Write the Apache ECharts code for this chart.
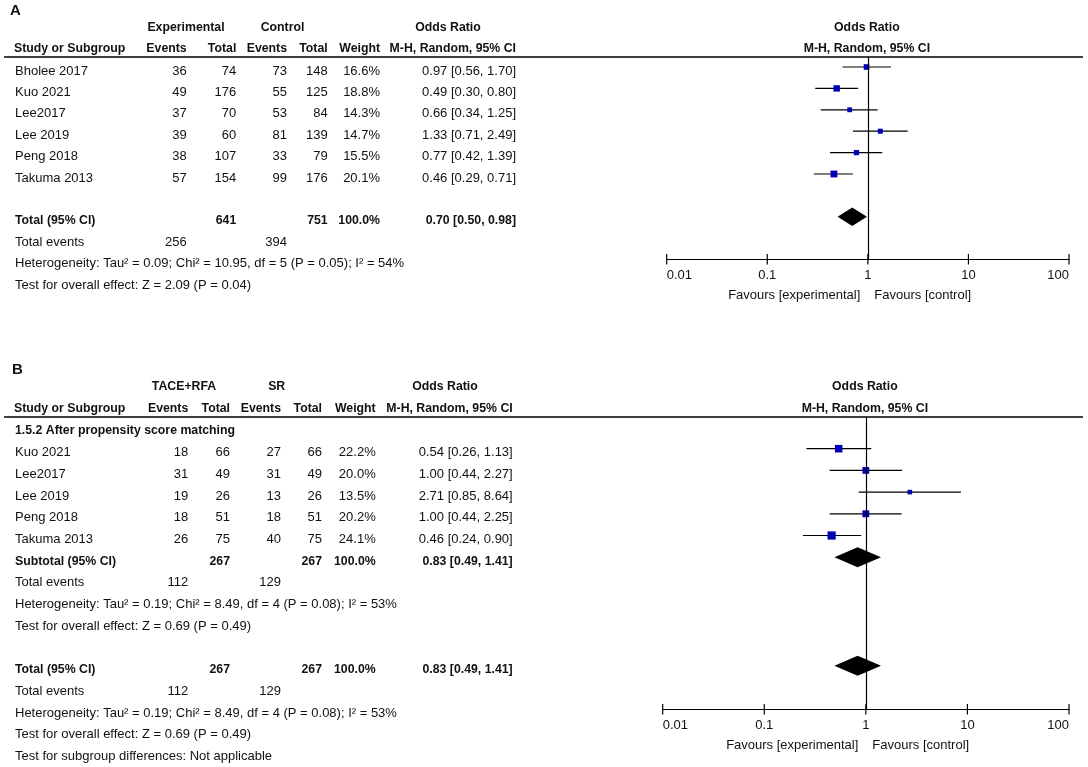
<!DOCTYPE html>
<html>
<head>
<meta charset="utf-8">
<script src="https://cdn.jsdelivr.net/npm/echarts@6/dist/echarts.min.js"></script>
<style>
  html, body { margin: 0; padding: 0; background: #fff; }
  #chart { width: 1088px; height: 767px; }
</style>
</head>
<body>
<div id="chart"></div>
<script>
// ---- panel A : all studies
var studiesA   = ['Bholee 2017', 'Kuo 2021', 'Lee2017', 'Lee 2019', 'Peng 2018', 'Takuma 2013'];
var expEventsA = [36, 49, 37, 39, 38, 57];
var expTotalA  = [74, 176, 70, 60, 107, 154];
var ctlEventsA = [73, 55, 53, 81, 33, 99];
var ctlTotalA  = [148, 125, 84, 139, 79, 176];
var weightA    = [16.6, 18.8, 14.3, 14.7, 15.5, 20.1];
var orA        = [0.97, 0.49, 0.66, 1.33, 0.77, 0.46];
var loA        = [0.56, 0.30, 0.34, 0.71, 0.42, 0.29];
var hiA        = [1.70, 0.80, 1.25, 2.49, 1.39, 0.71];
var pooledA    = [0.70, 0.50, 0.98];      // OR, lower, upper
var sumTotalA  = [641, 751];
var sumEventsA = [256, 394];
var hetA  = 'Heterogeneity: Tau\u00b2 = 0.09; Chi\u00b2 = 10.95, df = 5 (P = 0.05); I\u00b2 = 54%';
var testA = 'Test for overall effect: Z = 2.09 (P = 0.04)';

// ---- panel B : after propensity score matching
var studiesB   = ['Kuo 2021', 'Lee2017', 'Lee 2019', 'Peng 2018', 'Takuma 2013'];
var expEventsB = [18, 31, 19, 18, 26];
var expTotalB  = [66, 49, 26, 51, 75];
var ctlEventsB = [27, 31, 13, 18, 40];
var ctlTotalB  = [66, 49, 26, 51, 75];
var weightB    = [22.2, 20.0, 13.5, 20.2, 24.1];
var orB        = [0.54, 1.00, 2.71, 1.00, 0.46];
var loB        = [0.26, 0.44, 0.85, 0.44, 0.24];
var hiB        = [1.13, 2.27, 8.64, 2.25, 0.90];
var subtotalB  = [0.83, 0.49, 1.41];
var pooledB    = [0.83, 0.49, 1.41];
var sumTotalB  = [267, 267];
var sumEventsB = [112, 129];
var hetB  = 'Heterogeneity: Tau\u00b2 = 0.19; Chi\u00b2 = 8.49, df = 4 (P = 0.08); I\u00b2 = 53%';
var testB = 'Test for overall effect: Z = 0.69 (P = 0.49)';
var subgroupB = '1.5.2 After propensity score matching';
var diffB = 'Test for subgroup differences: Not applicable';

var tickLabels = ['0.01', '0.1', '1', '10', '100'];

var FONT = '"Liberation Sans", Arial, Helvetica, sans-serif';
var REG = '13px ' + FONT;
var BOLD = 'bold 12.3px ' + FONT;
var INK = '#111';
var BLUE = '#0000b4';
var MARK_DY = -4;

// layout of the two panels (pixels / row units)
var panels = [
  { letter: 'A', letterX: 10, y0: 71, rh: 21.4, top: 0, height: 322,
    cols: [15, 186.7, 236.3, 287, 327.7, 380, 516], groups: [186, 282.5, 448],
    groupNames: ['Experimental', 'Control'],
    plot: { left: 666.7, top: 57, width: 402.3, height: 202 }, half: 9.3 },
  { letter: 'B', letterX: 12, y0: 431, rh: 21.7, top: 330, height: 437,
    cols: [15, 188.3, 230, 281, 322, 375.7, 512.7], groups: [184, 276.7, 445],
    groupNames: ['TACE+RFA', 'SR'],
    plot: { left: 662.7, top: 417, width: 406.3, height: 292 }, half: 10 }
];

function ciText(o, l, h) {
  return o.toFixed(2) + ' [' + l.toFixed(2) + ', ' + h.toFixed(2) + ']';
}

function cell(x, row, text, align, font) {
  return { x: x, row: row, text: String(text), align: align, font: font || REG };
}

function studyCells(c, rows, names, ee, et, ce, ct, w, o, l, h) {
  var out = [];
  names.forEach(function (n, i) {
    var r = rows[i];
    out.push(cell(c[0], r, n, 'left'));
    out.push(cell(c[1], r, ee[i], 'right'));
    out.push(cell(c[2], r, et[i], 'right'));
    out.push(cell(c[3], r, ce[i], 'right'));
    out.push(cell(c[4], r, ct[i], 'right'));
    out.push(cell(c[5], r, w[i].toFixed(1) + '%', 'right'));
    out.push(cell(c[6], r, ciText(o[i], l[i], h[i]), 'right'));
  });
  return out;
}

function summaryCells(c, row, label, totals, pooled, events, het, test) {
  return [
    cell(c[0], row, label, 'left', BOLD),
    cell(c[2], row, totals[0], 'right', BOLD),
    cell(c[4], row, totals[1], 'right', BOLD),
    cell(c[5], row, '100.0%', 'right', BOLD),
    cell(c[6], row, ciText(pooled[0], pooled[1], pooled[2]), 'right', BOLD),
    cell(c[0], row + 1, 'Total events', 'left'),
    cell(c[1], row + 1, events[0], 'right'),
    cell(c[3], row + 1, events[1], 'right'),
    cell(c[0], row + 2, het, 'left'),
    cell(c[0], row + 3, test, 'left')
  ];
}

function headerCells(p) {
  var c = p.cols;
  return [
    cell(p.letterX, -2.8, p.letter, 'left', 'bold 15px ' + FONT),
    cell(p.groups[0], -2.05, p.groupNames[0], 'center', BOLD),
    cell(p.groups[1], -2.05, p.groupNames[1], 'center', BOLD),
    cell(p.groups[2], -2.05, 'Odds Ratio', 'center', BOLD),
    cell(c[0] - 1, -1.03, 'Study or Subgroup', 'left', BOLD),
    cell(c[1], -1.03, 'Events', 'right', BOLD),
    cell(c[2], -1.03, 'Total', 'right', BOLD),
    cell(c[3], -1.03, 'Events', 'right', BOLD),
    cell(c[4], -1.03, 'Total', 'right', BOLD),
    cell(c[5], -1.03, 'Weight', 'right', BOLD),
    cell(c[6], -1.03, 'M-H, Random, 95% CI', 'right', BOLD)
  ];
}

var rowsA = [0, 1, 2, 3, 4, 5];
var rowsB = [1, 2, 3, 4, 5];

var cellsA = headerCells(panels[0])
  .concat(studyCells(panels[0].cols, rowsA, studiesA, expEventsA, expTotalA, ctlEventsA, ctlTotalA, weightA, orA, loA, hiA))
  .concat(summaryCells(panels[0].cols, 7, 'Total (95% CI)', sumTotalA, pooledA, sumEventsA, hetA, testA));

var cellsB = headerCells(panels[1])
  .concat([cell(panels[1].cols[0], 0, subgroupB, 'left', BOLD)])
  .concat(studyCells(panels[1].cols, rowsB, studiesB, expEventsB, expTotalB, ctlEventsB, ctlTotalB, weightB, orB, loB, hiB))
  .concat(summaryCells(panels[1].cols, 6, 'Subtotal (95% CI)', sumTotalB, subtotalB, sumEventsB, hetB, testB))
  .concat(summaryCells(panels[1].cols, 11, 'Total (95% CI)', sumTotalB, pooledB, sumEventsB, hetB, testB))
  .concat([cell(panels[1].cols[0], 15, diffB, 'left')]);

// ---- series builders
function textSeries(xi, yi, cells) {
  return {
    type: 'custom', xAxisIndex: xi, yAxisIndex: yi, silent: true, clip: false,
    data: cells.map(function (c) { return [c.x, c.row]; }),
    encode: { x: 0, y: 1 },
    renderItem: function (params, api) {
      var c = cells[params.dataIndex];
      var pt = api.coord([c.x, c.row]);
      return { type: 'text', x: pt[0] + (c.dx || 0), y: pt[1] + (c.dy || 0),
        style: { text: c.text, align: c.align, verticalAlign: 'middle', font: c.font, fill: INK } };
    }
  };
}

function ruleSeries(xi, yi, row) {
  return {
    type: 'custom', xAxisIndex: xi, yAxisIndex: yi, silent: true, clip: false,
    data: [[4, row, 1083]],
    renderItem: function (params, api) {
      var a = api.coord([api.value(0), api.value(1)]);
      var b = api.coord([api.value(2), api.value(1)]);
      return { type: 'line', shape: { x1: a[0], y1: a[1], x2: b[0], y2: b[1] },
        style: { stroke: '#000', lineWidth: 1.6 } };
    }
  };
}

// tick marks that cross the axis line (RevMan style)
function tickSeries(xi, yi, axisRow) {
  return {
    type: 'custom', xAxisIndex: xi, yAxisIndex: yi, silent: true, clip: false,
    data: tickLabels.map(function (t) { return [Number(t), axisRow]; }),
    encode: { x: 0, y: 1 },
    renderItem: function (params, api) {
      var pt = api.coord([api.value(0), api.value(1)]);
      return { type: 'line', shape: { x1: pt[0], y1: pt[1] - 5, x2: pt[0], y2: pt[1] + 5.5 },
        style: { stroke: '#000', lineWidth: 1.2 } };
    }
  };
}

function ciSeries(xi, yi, rows, o, l, h, w) {
  return {
    type: 'custom', xAxisIndex: xi, yAxisIndex: yi, silent: true, clip: false,
    data: rows.map(function (r, i) { return [l[i], h[i], o[i], r, w[i]]; }),
    encode: { x: [0, 1, 2], y: 3 },
    renderItem: function (params, api) {
      var a = api.coord([api.value(0), api.value(3)]);
      var b = api.coord([api.value(1), api.value(3)]);
      var c = api.coord([api.value(2), api.value(3)]);
      var y = c[1] + MARK_DY;
      var s = api.value(4) * 0.34;
      return { type: 'group', children: [
        { type: 'line', shape: { x1: a[0], y1: y, x2: b[0], y2: y }, style: { stroke: '#000', lineWidth: 1.2 } },
        { type: 'rect', shape: { x: c[0] - s / 2, y: y - s / 2, width: s, height: s }, style: { fill: BLUE } }
      ] };
    },
    markLine: {
      silent: true, symbol: ['none', 'none'], label: { show: false }, animation: false,
      lineStyle: { color: '#000', width: 1.2, type: 'solid' },
      data: [{ xAxis: 1 }]
    }
  };
}

function diamondSeries(xi, yi, items, half) {
  return {
    type: 'custom', xAxisIndex: xi, yAxisIndex: yi, silent: true, clip: false,
    data: items.map(function (d) { return [d[1][1], d[1][2], d[1][0], d[0]]; }),
    encode: { x: [0, 1, 2], y: 3 },
    renderItem: function (params, api) {
      var a = api.coord([api.value(0), api.value(3)]);
      var b = api.coord([api.value(1), api.value(3)]);
      var c = api.coord([api.value(2), api.value(3)]);
      var y = c[1] + MARK_DY;
      return { type: 'polygon',
        shape: { points: [[a[0], y], [c[0], y - half], [b[0], y], [c[0], y + half]] },
        style: { fill: '#000' } };
    }
  };
}

function plotTextSeries(xi, yi, axisRow) {
  var cells = [
    { x: 1, row: -2.05, text: 'Odds Ratio', align: 'center', font: BOLD, dx: -1 },
    { x: 1, row: -1.03, text: 'M-H, Random, 95% CI', align: 'center', font: BOLD, dx: -1 },
    { x: 1, row: axisRow, text: 'Favours [experimental]', align: 'right', font: REG, dx: -7.5, dy: 36 },
    { x: 1, row: axisRow, text: 'Favours [control]', align: 'left', font: REG, dx: 6.5, dy: 36 }
  ];
  return textSeries(xi, yi, cells);
}

// ---- axes
var grids = [], xAxes = [], yAxes = [], series = [];

function rowAxis(gi, p, top, height) {
  return { gridIndex: gi, type: 'value', inverse: true, show: false,
    min: (top - p.y0) / p.rh, max: (top + height - p.y0) / p.rh };
}

panels.forEach(function (p, k) {
  var gTable = grids.length;
  grids.push({ left: 0, top: p.top, width: 1088, height: p.height });
  var gPlot = grids.length;
  grids.push({ left: p.plot.left, top: p.plot.top, width: p.plot.width, height: p.plot.height });

  var xT = xAxes.length;
  xAxes.push({ gridIndex: gTable, type: 'value', min: 0, max: 1088, show: false });
  var xP = xAxes.length;
  xAxes.push({
    gridIndex: gPlot, type: 'log', logBase: 10, min: 0.01, max: 100, splitNumber: 4, position: 'bottom',
    axisLine: { show: true, onZero: false, lineStyle: { color: '#000', width: 1.2 } },
    axisTick: { show: false },
    splitLine: { show: false }, minorTick: { show: false },
    axisLabel: {
      show: true, margin: 10, color: INK, fontFamily: FONT, fontSize: 13,
      alignMinLabel: 'left', alignMaxLabel: 'right',
      formatter: function (v) { return tickLabels[Math.round(Math.log10(v)) + 2]; }
    }
  });

  var yT = yAxes.length;
  yAxes.push(rowAxis(gTable, p, p.top, p.height));
  var yP = yAxes.length;
  yAxes.push(rowAxis(gPlot, p, p.plot.top, p.plot.height));

  var ruleRow = (p.plot.top - p.y0) / p.rh;
  var axisRow = (p.plot.top + p.plot.height - p.y0) / p.rh;

  series.push(ruleSeries(xT, yT, ruleRow));
  series.push(textSeries(xT, yT, k === 0 ? cellsA : cellsB));
  series.push(plotTextSeries(xP, yP, axisRow));
  series.push(tickSeries(xP, yP, axisRow));
  if (k === 0) {
    series.push(ciSeries(xP, yP, rowsA, orA, loA, hiA, weightA));
    series.push(diamondSeries(xP, yP, [[7, pooledA]], p.half));
  } else {
    series.push(ciSeries(xP, yP, rowsB, orB, loB, hiB, weightB));
    series.push(diamondSeries(xP, yP, [[6, subtotalB], [11, pooledB]], p.half));
  }
});

var chart = echarts.init(document.getElementById('chart'), null, { renderer: 'canvas' });
chart.setOption({
  animation: false,
  backgroundColor: '#fff',
  grid: grids,
  xAxis: xAxes,
  yAxis: yAxes,
  series: series
});
</script>
</body>
</html>
